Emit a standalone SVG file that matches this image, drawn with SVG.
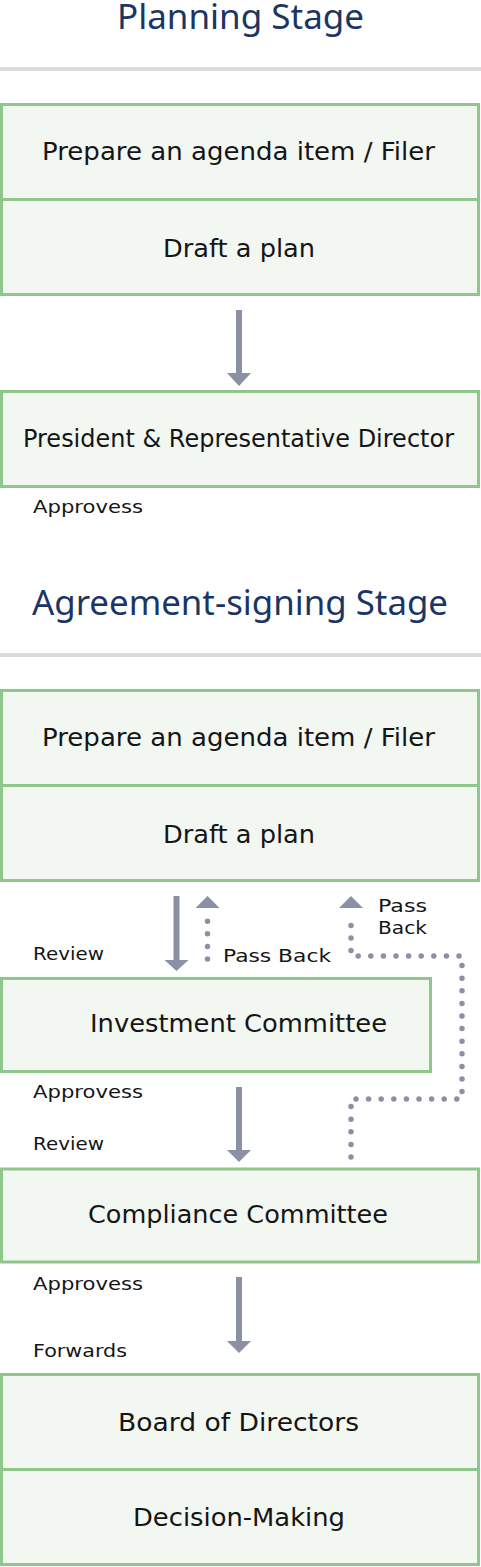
<svg xmlns="http://www.w3.org/2000/svg" width="481" height="1567" viewBox="0 0 481 1567">
<style>
.title{font-family:"Noto Sans","Open Sans",sans-serif;font-size:34px;fill:#1b3564;text-anchor:middle}
.box{fill:#f2f7f1;stroke:#8fc68c;stroke-width:3}
.bt{font-family:"DejaVu Sans","Liberation Sans",sans-serif;font-size:25px;fill:#151515;text-anchor:middle}
.lb{font-family:"DejaVu Sans","Liberation Sans",sans-serif;font-size:18.5px;fill:#151515}
.sep{fill:#dcdcdc}
.arr{fill:#8b90a5}
.dot{fill:none;stroke:#8b90a5;stroke-width:5.5;stroke-linecap:round;stroke-linejoin:round;stroke-dasharray:0 12.6}
</style>
<rect width="481" height="1567" fill="#ffffff"/>
<g id="title-planning">
<text class="title" x="240.5" y="29" textLength="247" lengthAdjust="spacingAndGlyphs">Planning Stage</text>
<rect class="sep" x="0" y="67" width="481" height="4"/>
</g>
<g id="p-prepare">
<rect class="box" x="1.5" y="104.5" width="477" height="95"/>
<text class="bt" x="238.5" y="160" textLength="393" lengthAdjust="spacingAndGlyphs">Prepare an agenda item / Filer</text>
</g>
<g id="p-draft">
<rect class="box" x="1.5" y="199.5" width="477" height="95"/>
<text class="bt" x="239" y="256.5" textLength="152" lengthAdjust="spacingAndGlyphs">Draft a plan</text>
</g>
<g id="p-president">
<rect class="box" x="1.5" y="391.5" width="477" height="95"/>
<text class="bt" x="238.5" y="447" textLength="431" lengthAdjust="spacingAndGlyphs">President &amp; Representative Director</text>
</g>
<g id="title-agreement">
<text class="title" x="240" y="615" textLength="416" lengthAdjust="spacingAndGlyphs">Agreement-signing Stage</text>
<rect class="sep" x="0" y="653" width="481" height="4"/>
</g>
<g id="a-prepare">
<rect class="box" x="1.5" y="690.5" width="477" height="95"/>
<text class="bt" x="238.5" y="746" textLength="393" lengthAdjust="spacingAndGlyphs">Prepare an agenda item / Filer</text>
</g>
<g id="a-draft">
<rect class="box" x="1.5" y="785.5" width="477" height="95"/>
<text class="bt" x="239" y="842.5" textLength="152" lengthAdjust="spacingAndGlyphs">Draft a plan</text>
</g>
<g id="a-investment">
<rect class="box" x="1.5" y="978.5" width="429" height="93"/>
<text class="bt" x="238.5" y="1032" textLength="297" lengthAdjust="spacingAndGlyphs">Investment Committee</text>
</g>
<g id="a-compliance">
<rect class="box" x="1.5" y="1169" width="477" height="93"/>
<text class="bt" x="238" y="1223" textLength="300" lengthAdjust="spacingAndGlyphs">Compliance Committee</text>
</g>
<g id="a-board">
<rect class="box" x="1.5" y="1374.5" width="477" height="95"/>
<text class="bt" x="238.5" y="1430.5" textLength="241" lengthAdjust="spacingAndGlyphs">Board of Directors</text>
</g>
<g id="a-decision">
<rect class="box" x="1.5" y="1469.5" width="477" height="95"/>
<text class="bt" x="239" y="1525.5" textLength="212" lengthAdjust="spacingAndGlyphs">Decision-Making</text>
</g>
<g id="connectors">
<rect class="arr" x="236" y="310" width="6" height="65"/>
<polygon class="arr" points="227,373 251,373 239,386"/>
<rect class="arr" x="173.5" y="896" width="6" height="66"/>
<polygon class="arr" points="164.5,960 188.5,960 176.5,971"/>
<polygon class="arr" points="195.5,908 219.5,908 207.5,896"/>
<path class="dot" d="M207.5,959 V920"/>
<polygon class="arr" points="339,908 363,908 351,896"/>
<path class="dot" d="M351,1157 V1099 H462 V956 H351 V920"/>
<rect class="arr" x="236" y="1087" width="6" height="65"/>
<polygon class="arr" points="227,1150 251,1150 239,1162"/>
<rect class="arr" x="236" y="1277" width="6" height="66"/>
<polygon class="arr" points="227,1341 251,1341 239,1353"/>
</g>
<g id="labels">
<text class="lb" x="33" y="513" textLength="110" lengthAdjust="spacingAndGlyphs">Approvess</text>
<text class="lb" x="33" y="960" textLength="71" lengthAdjust="spacingAndGlyphs">Review</text>
<text class="lb" x="223" y="962" textLength="108" lengthAdjust="spacingAndGlyphs">Pass Back</text>
<text class="lb" x="378" y="912" textLength="49" lengthAdjust="spacingAndGlyphs">Pass</text>
<text class="lb" x="378" y="934" textLength="49" lengthAdjust="spacingAndGlyphs">Back</text>
<text class="lb" x="33" y="1098" textLength="110" lengthAdjust="spacingAndGlyphs">Approvess</text>
<text class="lb" x="33" y="1150" textLength="71" lengthAdjust="spacingAndGlyphs">Review</text>
<text class="lb" x="33" y="1290" textLength="110" lengthAdjust="spacingAndGlyphs">Approvess</text>
<text class="lb" x="33" y="1357" textLength="94" lengthAdjust="spacingAndGlyphs">Forwards</text>
</g>
</svg>
